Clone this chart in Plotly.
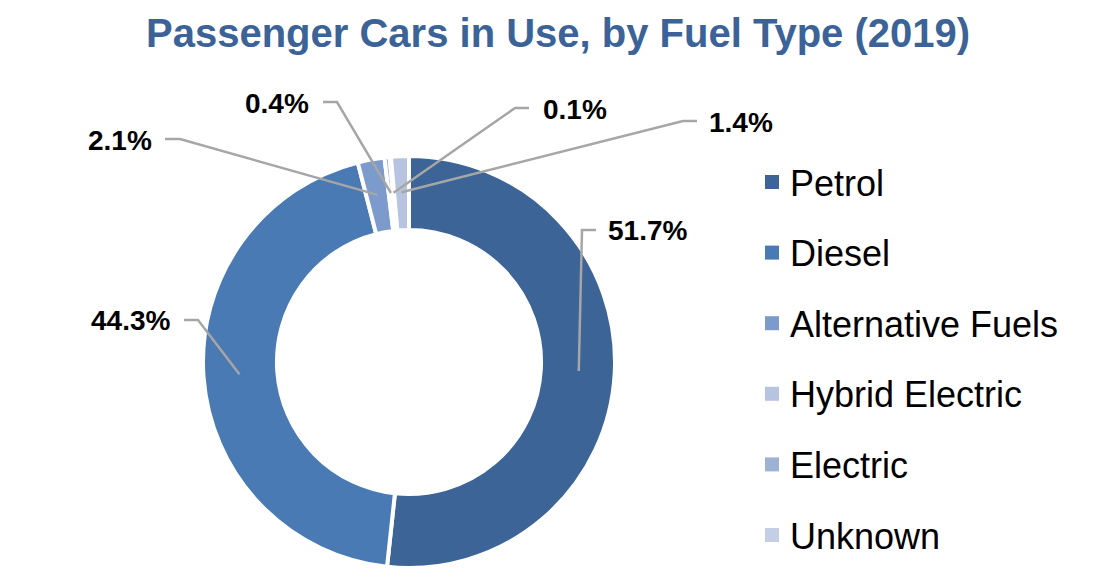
import math
import plotly.graph_objects as go

# ---- data ----
fuel_types = ["Petrol", "Diesel", "Alternative Fuels", "Hybrid Electric", "Electric", "Unknown"]
shares = [51.7, 44.3, 2.1, 1.4, 0.4, 0.1]
colors = ["#3C6496", "#4A7AB4", "#7C9BCC", "#B6C4E0", "#9DB1D5", "#C4CEE4"]
# order in which the slices run clockwise round the ring
ring_order = [0, 1, 2, 4, 5, 3]
title = "Passenger Cars in Use, by Fuel Type (2019)"

# ---- layout constants (screen pixels) ----
VW, VH = 1112, 586          # browser window
OFF = 8                     # page body margin
W, H = VW - 2 * OFF, VH - 2 * OFF
CX, CY, R_OUT, HOLE = 409, 362, 206, 0.641
R_MID = 170
FONT = "Liberation Sans, Arial, sans-serif"
label_pos = {
    0: dict(text=(606, 230), elbow=(582, 230), hend=(596, 230), side="left"),
    1: dict(text=(172, 320), elbow=(198, 320), hend=(184, 320), side="right"),
    2: dict(text=(154, 140), elbow=(180, 139), hend=(165, 139), side="right"),
    4: dict(text=(311, 104), elbow=(337, 102), hend=(323, 102), side="right"),
    5: dict(text=(541, 109), elbow=(515, 108), hend=(529, 108), side="left"),
    3: dict(text=(707, 123), elbow=(683, 121), hend=(697, 121), side="left"),
}
legend_x, legend_y0, legend_dy = 765, 182, 70.6


def px(x):
    return (x - OFF) / W


def py(y):
    return 1 - (y - OFF) / H


ring_labels = [fuel_types[i] for i in ring_order]
ring_values = [shares[i] for i in ring_order]
ring_colors = [colors[i] for i in ring_order]

fig = go.Figure(go.Pie(
    labels=ring_labels,
    values=ring_values,
    marker=dict(colors=ring_colors, line=dict(color="white", width=4)),
    hole=HOLE,
    sort=False,
    direction="clockwise",
    rotation=0,
    textinfo="none",
    showlegend=False,
    domain=dict(x=[px(CX - R_OUT), px(CX + R_OUT)], y=[py(CY + R_OUT), py(CY - R_OUT)]),
))

shapes = []
annotations = []
total = sum(ring_values)
cum = 0.0
for idx, v in zip(ring_order, ring_values):
    mid = (cum + v / 2) / total * 2 * math.pi
    cum += v
    sx = CX + R_MID * math.sin(mid)
    sy = CY - R_MID * math.cos(mid)
    lp = label_pos[idx]
    ex, ey = lp["elbow"]
    hx, hy = lp["hend"]
    shapes.append(dict(
        type="path", xref="paper", yref="paper",
        path=f"M {px(sx)},{py(sy)} L {px(ex)},{py(ey)} L {px(hx)},{py(hy)}",
        line=dict(color="#A6A6A6", width=2.5),
    ))
    tx, ty = lp["text"]
    annotations.append(dict(
        x=px(tx), y=py(ty), xref="paper", yref="paper",
        text=f"<b>{shares[idx]:.1f}%</b>", showarrow=False,
        xanchor="left" if lp["side"] == "left" else "right", yanchor="middle",
        font=dict(family=FONT, size=28, color="black"),
    ))

# legend (in data order)
for k, name in enumerate(fuel_types):
    yc = legend_y0 + k * legend_dy
    shapes.append(dict(
        type="rect", xref="paper", yref="paper",
        x0=px(legend_x), x1=px(legend_x + 14), y0=py(yc - 7), y1=py(yc + 7),
        fillcolor=colors[k], line=dict(width=0),
    ))
    annotations.append(dict(
        x=px(legend_x + 23), y=py(yc + 1), xref="paper", yref="paper",
        text=name, showarrow=False, xanchor="left", yanchor="middle",
        font=dict(family=FONT, size=36, color="black"),
    ))

annotations.append(dict(
    x=px(558), y=py(33), xref="paper", yref="paper",
    text=f"<b>{title}</b>", showarrow=False, xanchor="center", yanchor="middle",
    font=dict(family=FONT, size=40, color="#3B6398"),
))

fig.update_layout(
    width=W, height=H,
    margin=dict(l=0, r=0, t=0, b=0),
    paper_bgcolor="white", plot_bgcolor="white",
    shapes=shapes, annotations=annotations,
)

fig.write_html("out.html")
